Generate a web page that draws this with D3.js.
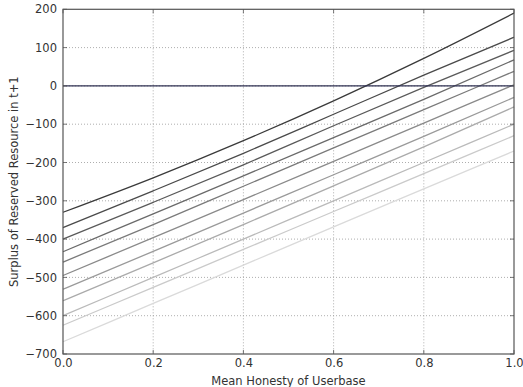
<!DOCTYPE html>
<html><head><meta charset="utf-8">
<script src="https://cdn.jsdelivr.net/npm/d3@7"></script>
<style>
body{margin:0;background:#fff;}
text{font-family:"DejaVu Sans",sans-serif;}
</style></head>
<body><svg id="c" width="523" height="387"></svg>
<script>
const xValues = [0, 0.2, 0.4, 0.6, 0.8, 1.0];
const series1  = [-330, -240, -143, -39, 72, 190];
const series2  = [-370, -274, -176, -74, 28, 127];
const series3  = [-400, -304, -206, -104, -4, 93];
const series4  = [-433, -334, -235, -135, -35, 68];
const series5  = [-460, -362, -262, -162, -62, 38];
const series6  = [-495, -396, -297, -197, -97, 3];
const series7  = [-531, -432, -332, -232, -132, -30];
const series8  = [-561, -462, -362, -261, -159, -55];
const series9  = [-600, -500, -400, -300, -200, -100];
const series10 = [-625, -526, -427, -328, -229, -130];
const series11 = [-668, -568, -468, -368, -269, -170];
const allSeries = [series1,series2,series3,series4,series5,series6,series7,series8,series9,series10,series11];
const zeroLine = [0, 0];
const xTicks = [0, 0.2, 0.4, 0.6, 0.8, 1.0];
const yTicks = [-700, -600, -500, -400, -300, -200, -100, 0, 100, 200];
const xTitle = "Mean Honesty of Userbase";
const yTitle = "Surplus of Reserved Resource in t+1";

const L = 63, R = 514, T = 9.3, B = 354;
const svg = d3.select("#c");
const x = d3.scaleLinear().domain([0, 1]).range([L, R]);
const y = d3.scaleLinear().domain([-700, 200]).range([B, T]);

// grid
const g = svg.append("g");
g.selectAll(".gx").data(xTicks.slice(1, -1)).enter().append("line")
  .attr("x1", d => x(d)).attr("x2", d => x(d)).attr("y1", T).attr("y2", B)
  .attr("stroke", "#999").attr("stroke-width", 0.8).attr("stroke-dasharray", "1,2");
g.selectAll(".gy").data(yTicks.slice(1, -1)).enter().append("line")
  .attr("y1", d => y(d)).attr("y2", d => y(d)).attr("x1", L).attr("x2", R)
  .attr("stroke", "#999").attr("stroke-width", 0.8).attr("stroke-dasharray", "1,2");

// lines
const line = d3.line().x((d, i) => x(xValues[i])).y(d => y(d)).curve(d3.curveMonotoneX);
const shade = d3.scaleLinear().domain([0, allSeries.length - 1]).range(["#3a3a3a", "#dadada"]);
svg.append("g").selectAll("path").data(allSeries).enter().append("path")
  .attr("d", line).attr("fill", "none")
  .attr("stroke", (d, i) => shade(i)).attr("stroke-width", 1.3);

// zero line
svg.append("line").attr("x1", x(0)).attr("x2", x(1)).attr("y1", y(zeroLine[0])).attr("y2", y(zeroLine[1]))
  .attr("stroke", "#2f3052").attr("stroke-width", 1.4);

// axes
const fmtY = d => d3.format("")(d).replace("-", "\u2212");
const ax = d3.axisBottom(x).tickValues(xTicks).tickFormat(d3.format(".1f")).tickSize(0).tickPadding(3);
const ay = d3.axisLeft(y).tickValues(yTicks).tickFormat(fmtY).tickSize(0).tickPadding(6);
const gx = svg.append("g").attr("transform", `translate(0,${B})`).call(ax);
const gy = svg.append("g").attr("transform", `translate(${L},0)`).call(ay);
[gx, gy].forEach(a => {
  a.select(".domain").remove();
  a.selectAll("text").attr("font-size", 11.5).attr("fill", "#333").attr("font-family", "DejaVu Sans");
});
gx.selectAll("text").attr("dy", "0.9em");

// inward ticks on all sides
const tk = svg.append("g").attr("stroke", "#555").attr("stroke-width", 0.8);
xTicks.forEach(v => {
  tk.append("line").attr("x1", x(v)).attr("x2", x(v)).attr("y1", B).attr("y2", B - 4);
  tk.append("line").attr("x1", x(v)).attr("x2", x(v)).attr("y1", T).attr("y2", T + 4);
});
yTicks.forEach(v => {
  tk.append("line").attr("y1", y(v)).attr("y2", y(v)).attr("x1", L).attr("x2", L + 4);
  tk.append("line").attr("y1", y(v)).attr("y2", y(v)).attr("x1", R).attr("x2", R - 4);
});

// frame
svg.append("rect").attr("x", L).attr("y", T).attr("width", R - L).attr("height", B - T)
  .attr("fill", "none").attr("stroke", "#555").attr("stroke-width", 1.2);

// titles
svg.append("text").attr("x", (L + R) / 2).attr("y", 385).attr("text-anchor", "middle")
  .attr("font-size", 11.5).attr("fill", "#333").text(xTitle);
svg.append("text").attr("transform", `translate(18,${(T + B) / 2}) rotate(-90)`).attr("text-anchor", "middle")
  .attr("font-size", 11.5).attr("fill", "#333").text(yTitle);
</script></body></html>
